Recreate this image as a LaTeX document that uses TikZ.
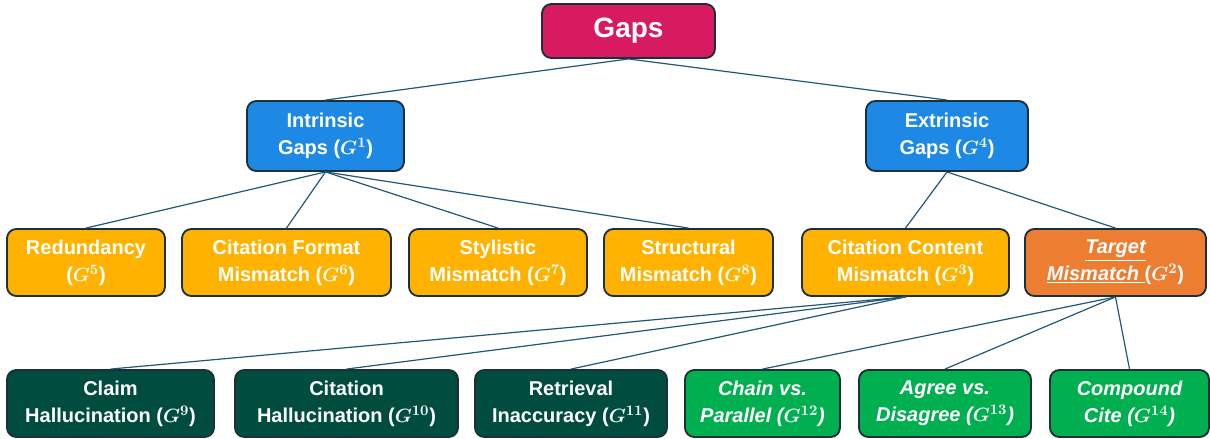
\documentclass[tikz,border=0pt]{standalone}
\usepackage{fontspec}
\setmainfont{Liberation Sans}
\usepackage{xcolor}
\definecolor{gapsred}{RGB}{216,27,96}
\definecolor{gapsblue}{RGB}{30,136,229}
\definecolor{gapsamber}{RGB}{255,179,0}
\definecolor{gapsorange}{RGB}{237,125,49}
\definecolor{gapsdark}{RGB}{0,77,64}
\definecolor{gapsgreen}{RGB}{0,176,80}
\definecolor{edgeline}{RGB}{32,88,118}
\definecolor{boxline}{RGB}{28,48,60}

\tikzset{
  gapbox/.style={draw=boxline, line width=1.4pt, rounded corners=7pt, align=center,
    text=white, font=\fontsize{15}{20}\selectfont\bfseries\boldmath, inner sep=0pt},
  link/.style={edgeline, line width=0.9pt}
}

\begin{document}
\begin{tikzpicture}[x=0.75pt, y=-0.75pt]
    \useasboundingbox (0,0) rectangle (1210,439);

    % Root
    \node[gapbox, fill=gapsred, minimum width=129.75pt, minimum height=40.5pt,
      font=\fontsize{21}{24}\selectfont\bfseries] (gaps) at (628.5,31) {Gaps};

    % Second level
    \node[gapbox, fill=gapsblue, minimum width=117.75pt, minimum height=52.5pt] (intr) at (325.5,136) {Intrinsic\\Gaps ($G^{1}$)};
    \node[gapbox, fill=gapsblue, minimum width=121.5pt, minimum height=52.5pt] (extr) at (947,136) {Extrinsic\\Gaps ($G^{4}$)};

    % Third level
    \node[gapbox, fill=gapsamber, minimum width=118.5pt, minimum height=50.25pt] (redund) at (86,262.5) {Redundancy\\($G^{5}$)};
    \node[gapbox, fill=gapsamber, minimum width=156.75pt, minimum height=50.25pt] (format) at (286.5,262.5) {Citation Format\\Mismatch ($G^{6}$)};
    \node[gapbox, fill=gapsamber, minimum width=133.5pt, minimum height=50.25pt] (style) at (498,262.5) {Stylistic\\Mismatch ($G^{7}$)};
    \node[gapbox, fill=gapsamber, minimum width=126.75pt, minimum height=50.25pt] (struct) at (688.5,262.5) {Structural\\Mismatch ($G^{8}$)};
    \node[gapbox, fill=gapsamber, minimum width=155.25pt, minimum height=50.25pt] (content) at (905.5,262.5) {Citation Content\\Mismatch ($G^{3}$)};
    \node[gapbox, fill=gapsorange, minimum width=135.75pt, minimum height=50.25pt] (target) at (1115.5,262.5) {\underline{\itshape Target}\\\underline{\itshape Mismatch\ }($G^{2}$)};

    % Fourth level
    \node[gapbox, fill=gapsdark, minimum width=155.25pt, minimum height=50.25pt] (claim) at (110.5,403.5) {Claim\\Hallucination ($G^{9}$)};
    \node[gapbox, fill=gapsdark, minimum width=167.25pt, minimum height=50.25pt] (citehal) at (346.5,403.5) {Citation\\Hallucination ($G^{10}$)};
    \node[gapbox, fill=gapsdark, minimum width=144pt, minimum height=50.25pt] (retr) at (571,403.5) {Retrieval\\Inaccuracy ($G^{11}$)};
    \node[gapbox, fill=gapsgreen, minimum width=116.25pt, minimum height=50.25pt] (chain) at (762.5,403.5) {\itshape Chain vs.\\\itshape Parallel ($G^{12}$)};
    \node[gapbox, fill=gapsgreen, minimum width=129pt, minimum height=50.25pt] (agree) at (945,403.5) {\itshape Agree vs.\\\itshape Disagree ($G^{13}$)};
    \node[gapbox, fill=gapsgreen, minimum width=119.25pt, minimum height=50.25pt] (compound) at (1129.5,403.5) {\itshape Compound\\\itshape Cite ($G^{14}$)};

    % Links
    \draw[link] (gaps.south) -- (intr.north);
    \draw[link] (gaps.south) -- (extr.north);
    \foreach \kid in {redund,format,style,struct}
      \draw[link] (intr.south) -- (\kid.north);
    \draw[link] (extr.south) -- (content.north);
    \draw[link] (extr.south) -- (target.north);
    \foreach \kid in {claim,citehal,retr}
      \draw[link] (content.south) -- (\kid.north);
    \foreach \kid in {chain,agree,compound}
      \draw[link] (target.south) -- (\kid.north);
\end{tikzpicture}
\end{document}
